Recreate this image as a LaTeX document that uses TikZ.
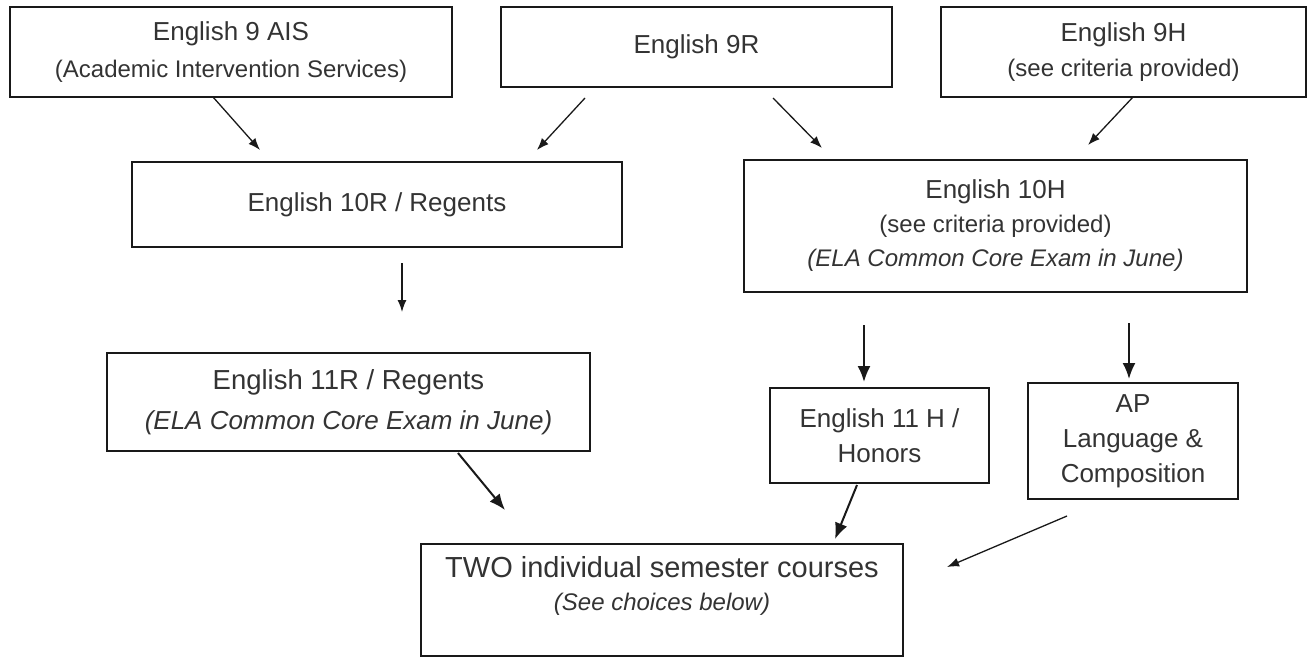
\documentclass[tikz,border=0pt]{standalone}
\usepackage{fontspec}
\setmainfont{Liberation Sans}
\usetikzlibrary{arrows.meta}

\newcommand{\subtxt}[1]{{\fontsize{24}{30}\selectfont #1}}

\begin{document}
\begin{tikzpicture}[
  x = 1pt, y = -1pt,
  course/.style     = {draw=black!90, line width=2pt, inner sep=0pt, align=center,
                       text=black!80, font=\fontsize{26}{35}\selectfont},
  thinarrow/.style  = {draw=black!90, line width=1.3pt, -{Latex[length=12pt, width=9pt]}},
  thickarrow/.style = {draw=black!90, line width=2pt, -{Latex[length=16pt, width=13pt]}}
]
  \useasboundingbox (0,0) rectangle (1308,658);

  % Grade 9
  \node [course, minimum width=442pt, minimum height=90pt, font=\fontsize{26}{37}\selectfont] (ais) at ( 231.0,  52.0)
    {English 9 AIS\\ \subtxt{(Academic Intervention Services)}};
  \node [course, minimum width=391pt, minimum height=80pt] (r9) at ( 696.5,  47.0) {English 9R};
  \node [course, minimum width=365pt, minimum height=90pt] (h9) at (1123.5,  52.0)
    {English 9H\\ \subtxt{(see criteria provided)}};

  % Grade 10
  \node [course, minimum width=490pt, minimum height=85pt] (r10) at ( 377.0, 204.5) {English 10R / Regents};
  \node [course, minimum width=503pt, minimum height=132pt, font=\fontsize{26}{34}\selectfont] (h10) at ( 995.5, 226.0)
    {English 10H\\ \subtxt{(see criteria provided)}\\ \subtxt{\itshape (ELA Common Core Exam in June)}};

  % Grade 11
  \node [course, minimum width=483pt, minimum height=98pt, font=\fontsize{27.5}{40}\selectfont] (r11) at ( 348.5, 402.0)
    {English 11R / Regents\\ {\fontsize{26}{30}\selectfont\itshape (ELA Common Core Exam in June)}};
  \node [course, minimum width=219pt, minimum height=95pt] (h11) at ( 879.5, 435.5) {English 11 H /\\ Honors};
  \node [course, minimum width=210pt, minimum height=116pt] (ap) at (1133.0, 441.0) {AP\\ Language \&\\ Composition};

  % Grade 12
  \node [course, minimum width=482pt, minimum height=112pt, font=\fontsize{29}{33}\selectfont] (two) at ( 662.0, 600.0)
    {TWO individual semester courses\\ \subtxt{\itshape (See choices below)}\\ \mbox{}};

  % Arrow ends
  \coordinate (ais-out)  at ( 213,  97);  \coordinate (r10-in1) at ( 260, 150);
  \coordinate (r9-out1)  at ( 585,  98);  \coordinate (r10-in2) at ( 537, 150);
  \coordinate (r9-out2)  at ( 773,  98);  \coordinate (h10-in1) at ( 822, 148);
  \coordinate (h9-out)   at (1133,  97);  \coordinate (h10-in2) at (1088, 145);
  \coordinate (r10-out)  at ( 402, 263);  \coordinate (r11-in)  at ( 402, 312);
  \coordinate (h10-out1) at ( 864, 325);  \coordinate (h11-in)  at ( 864, 382);
  \coordinate (h10-out2) at (1129, 323);  \coordinate (ap-in)   at (1129, 379);
  \coordinate (r11-out)  at ( 458, 453);  \coordinate (two-in1) at ( 505, 510);
  \coordinate (h11-out)  at ( 857, 485);  \coordinate (two-in2) at ( 835, 539);
  \coordinate (ap-out)   at (1067, 516);  \coordinate (two-in3) at ( 947, 567);

  % Links
  \draw [thinarrow]  (ais-out)  -- (r10-in1);
  \draw [thinarrow]  (r9-out1)  -- (r10-in2);
  \draw [thinarrow]  (r9-out2)  -- (h10-in1);
  \draw [thinarrow]  (h9-out)   -- (h10-in2);
  \draw [thinarrow]  (r10-out)  -- (r11-in);
  \draw [thickarrow] (h10-out1) -- (h11-in);
  \draw [thickarrow] (h10-out2) -- (ap-in);
  \draw [thickarrow] (r11-out)  -- (two-in1);
  \draw [thickarrow] (h11-out)  -- (two-in2);
  \draw [thinarrow]  (ap-out)   -- (two-in3);
\end{tikzpicture}
\end{document}
